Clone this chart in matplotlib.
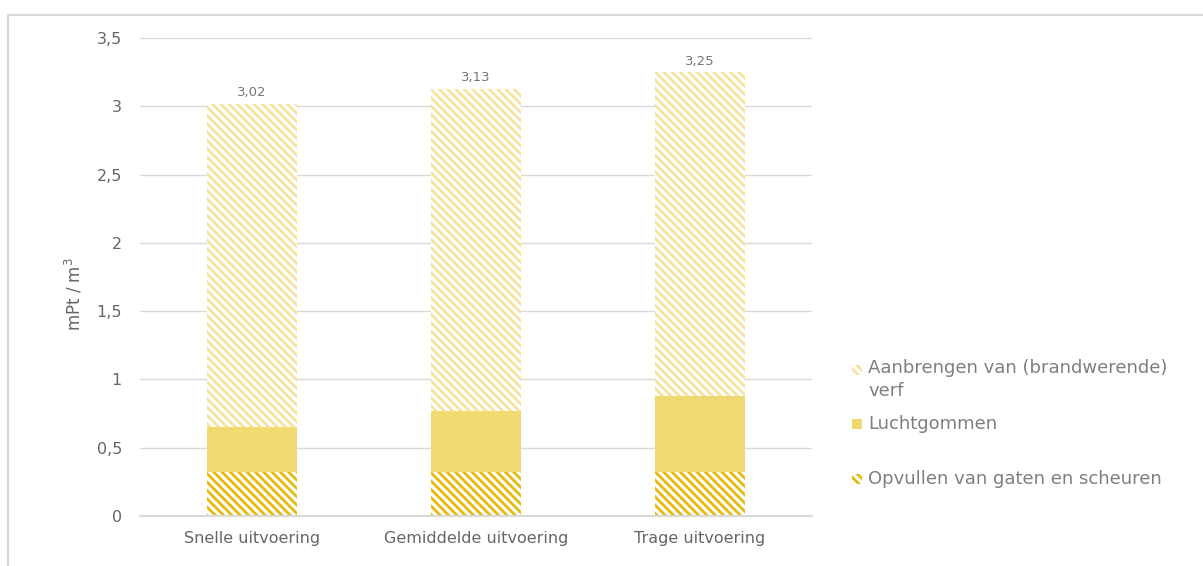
import matplotlib
matplotlib.use("Agg")
import matplotlib.pyplot as plt
from matplotlib.patches import Rectangle
import numpy as np

# Data
categories = ["Snelle uitvoering", "Gemiddelde uitvoering", "Trage uitvoering"]
opvullen = [0.32, 0.32, 0.32]
luchtgommen = [0.33, 0.45, 0.56]
verf = [2.37, 2.36, 2.37]
totals = [3.02, 3.13, 3.25]
total_labels = ["3,02", "3,13", "3,25"]
yticks = [0, 0.5, 1, 1.5, 2, 2.5, 3, 3.5]
ytick_labels = ["0", "0,5", "1", "1,5", "2", "2,5", "3", "3,5"]

series_names = ["Opvullen van gaten en scheuren", "Luchtgommen",
                "Aanbrengen van (brandwerende)\nverf"]

c_dark = "#E6BA0C"
c_mid = "#EFD970"
c_light = "#F6E49E"
text_gray = "#7F7F7F"
tick_gray = "#666666"
grid_gray = "#D9D9D9"
HATCH = "\\\\\\\\"

plt.rcParams["font.family"] = ["DejaVu Sans"]
plt.rcParams["hatch.linewidth"] = 2.0

fig = plt.figure(figsize=(12.03, 5.66), dpi=100)
ax = fig.add_axes([140 / 1203, 50 / 566, 672 / 1203, 478 / 566])

x = np.arange(len(categories))
w = 0.4
ax.bar(x, opvullen, w, color="white", edgecolor=c_dark, hatch=HATCH, linewidth=0)
ax.bar(x, luchtgommen, w, bottom=opvullen, color=c_mid, linewidth=0)
bottom3 = np.array(opvullen) + np.array(luchtgommen)
ax.bar(x, verf, w, bottom=bottom3, color="white", edgecolor=c_light, hatch=HATCH, linewidth=0)

for xi, t, lab in zip(x, totals, total_labels):
    ax.text(xi, t + 0.03, lab, ha="center", va="bottom", fontsize=9.5, color="#767676")

ax.set_xlim(-0.5, 2.5)
ax.set_ylim(0, 3.5)
ax.set_yticks(yticks)
ax.set_yticklabels(ytick_labels)
ax.set_xticks(x)
ax.set_xticklabels(categories)
ax.tick_params(axis="both", length=0, labelsize=11.5, labelcolor=tick_gray)
ax.tick_params(axis="y", pad=13)
ax.tick_params(axis="x", pad=11)
ax.grid(axis="y", color=grid_gray, linewidth=1)
ax.set_axisbelow(True)
for s in ["top", "right", "left"]:
    ax.spines[s].set_visible(False)
ax.spines["bottom"].set_color(grid_gray)
ax.spines["bottom"].set_linewidth(1.5)
ax.set_ylabel("mPt / m$^3$", fontsize=12, color=tick_gray)
ax.yaxis.set_label_coords(-0.083, 0.464)

# Chart frame (top and left edges inside the canvas)
fig.patches.append(Rectangle((7.5 / 1203, -0.1), 1.2, (566 - 14.5) / 566 + 0.1,
                             transform=fig.transFigure, fill=False,
                             edgecolor=grid_gray, linewidth=1.5))

# Legend entries, top to bottom
legend_rows = [
    (series_names[2], 370, dict(facecolor="white", edgecolor=c_light, hatch=HATCH)),
    (series_names[1], 424, dict(facecolor=c_mid, edgecolor="none")),
    (series_names[0], 479, dict(facecolor="white", edgecolor=c_dark, hatch=HATCH)),
]
for label, ypix, style in legend_rows:
    sq = Rectangle((852 / 1203, (566 - ypix - 5) / 566), 10 / 1203, 10 / 566,
                   transform=fig.transFigure, linewidth=0, **style)
    fig.patches.append(sq)
    ytext = (566 - ypix) / 566
    if "\n" in label:
        ytext = (566 - ypix + 11) / 566
    fig.text(868 / 1203, ytext, label, ha="left",
             va="top" if "\n" in label else "center",
             fontsize=13, color=text_gray, linespacing=1.35,
             transform=fig.transFigure)

fig.savefig("out.png", dpi=100)
